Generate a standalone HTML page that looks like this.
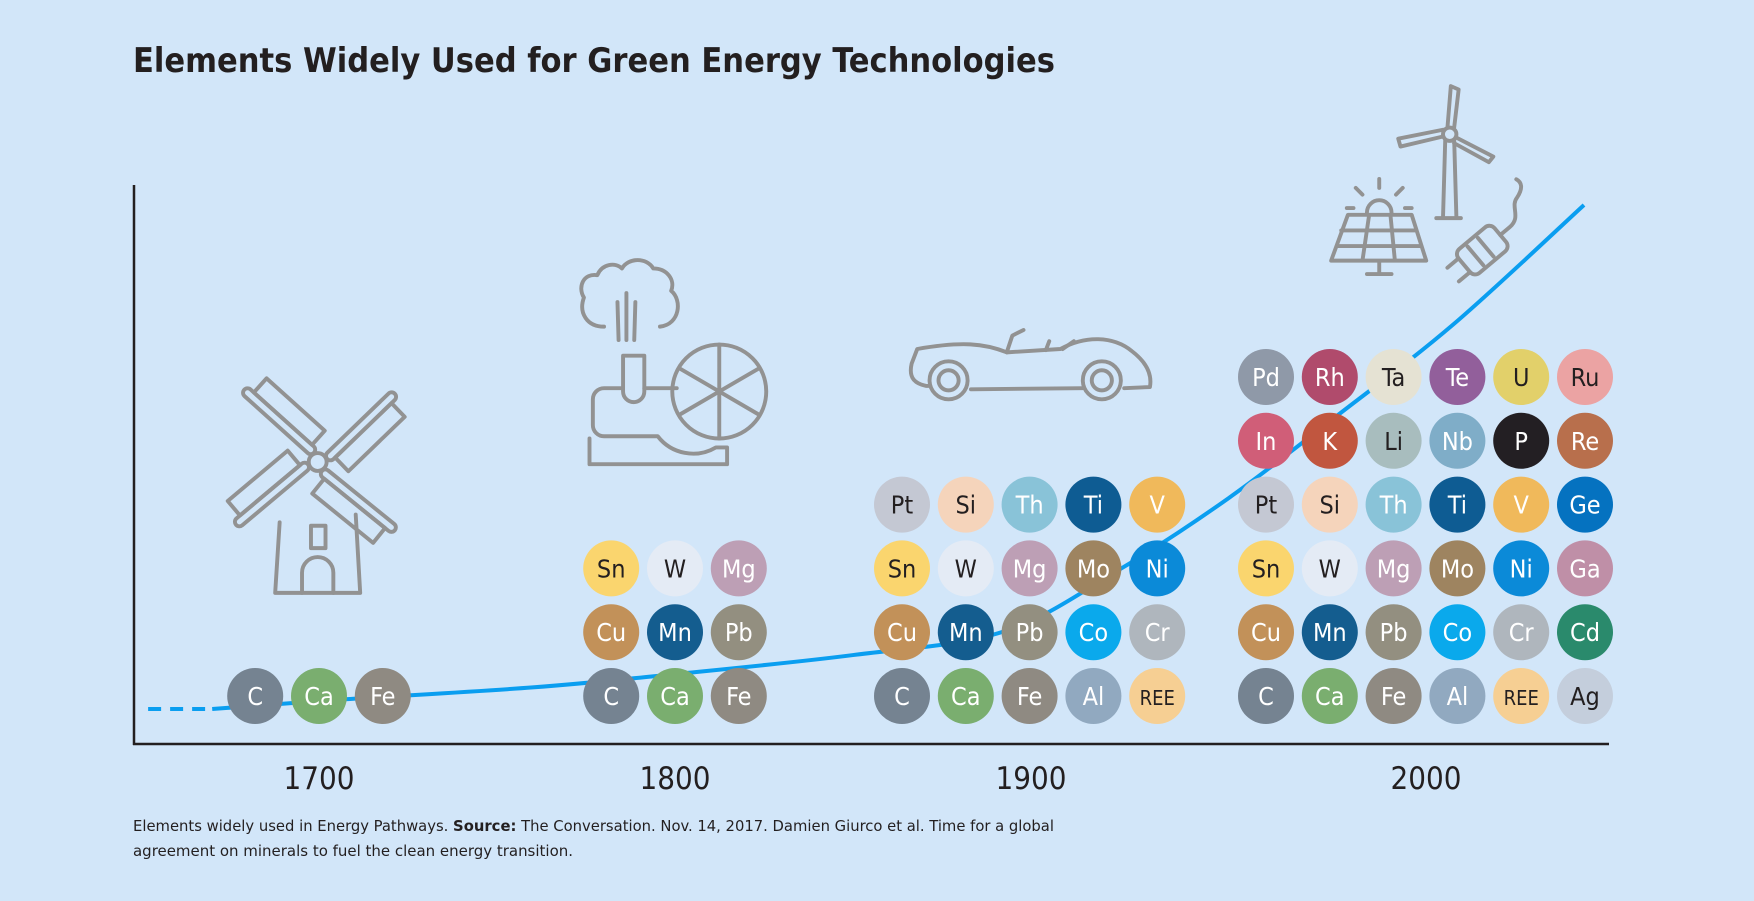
<!DOCTYPE html>
<html><head><meta charset="utf-8"><style>
html,body{margin:0;padding:0;background:#d2e6f9;}
svg{display:block;font-family:"DejaVu Sans Condensed","Liberation Sans",sans-serif;}
</style></head><body>
<svg id="chart" width="1754" height="901" viewBox="0 0 1754 901" xmlns="http://www.w3.org/2000/svg">
<rect width="1754" height="901" fill="#d2e6f9"/>
<text x="133" y="72" font-size="34" font-weight="bold" fill="#231f20" textLength="922" lengthAdjust="spacingAndGlyphs">Elements Widely Used for Green Energy Technologies</text>
<g id="icons" transform="scale(1.1186)" fill="none" stroke="#929292" stroke-width="3.5" stroke-linecap="round" stroke-linejoin="round">
  <g>
    <path d="M246,530 L250,467 M322,530 L318,460 M246,530 L322,530"/>
    <rect x="278" y="470" width="13" height="20"/>
    <path d="M270,530 V512 A14,14 0 0 1 298,512 V530"/>
    <circle cx="284" cy="413" r="8"/>
    <g transform="rotate(42 284 413)"><rect x="192" y="405" width="84" height="8" rx="4"/><rect x="200" y="388" width="70" height="17"/></g>
    <g transform="rotate(136 284 413)"><rect x="192" y="405" width="84" height="8" rx="4"/><rect x="200" y="388" width="70" height="17"/></g>
    <g transform="rotate(219 284 413)"><rect x="192" y="405" width="84" height="8" rx="4"/><rect x="200" y="388" width="70" height="17"/></g>
    <g transform="rotate(320 284 413)"><rect x="192" y="405" width="84" height="8" rx="4"/><rect x="200" y="388" width="70" height="17"/></g>
  </g>
  <g>
    <path d="M540,292 C525,292 517,280 522,266 C516,256 522,244 534,246 C538,236 550,234 556,240 C562,230 578,230 584,240 C596,240 604,250 600,260 C610,268 608,290 590,292"/>
    <path d="M552,270 L553,304 M560,262 V304 M568,270 L567,304"/>
    <path d="M557,318 H576 V350 A9,9 0 0 1 557,350 Z"/>
    <path d="M557,347 H540 A10,10 0 0 0 530,357 V380 A10,10 0 0 0 540,390 H588 A40,40 0 0 0 640,400 H650 V415 H527 V392"/>
    <path d="M576,347 H605"/>
    <circle cx="643" cy="350" r="42"/>
    <path d="M643,308 V392 M607,329 L679,371 M607,371 L679,329"/>
  </g>
  <g>
    <path d="M828,345 C818,343 812,338 815,325 L820,312 C860,305 880,307 900,315 L948,312 C970,300 995,300 1012,314 C1025,324 1030,335 1028,346 L1005,347 M968,347 L868,348 M828,345 L830,345"/>
    <circle cx="848" cy="340" r="17"/><circle cx="848" cy="340" r="9"/>
    <circle cx="985" cy="340" r="17"/><circle cx="985" cy="340" r="9"/>
    <path d="M900,315 L905,300 L915,295 M935,313 L938,305 M950,312 L960,305"/>
  </g>
  <g>
    <path d="M1290,195 L1292,125 M1300,125 L1302,195 M1284,195 H1306"/>
    <circle cx="1296" cy="120" r="6"/>
    <path d="M1294,114 L1297,77 L1304,80 L1300,114"/>
    <path d="M1290,122 L1252,131 L1250,124 L1290,116"/>
    <path d="M1302,123 L1335,140 L1331,145 L1300,128"/>
  </g>
  <g>
    <path d="M1205,192 H1262 L1275,233 H1190 Z M1199,206 H1266 M1195,220 H1270 M1224,192 L1218,233 M1243,192 L1247,233 M1233,233 V245 M1222,245 H1244"/>
    <path d="M1222,190 A11,11 0 0 1 1244,190"/>
    <path d="M1233,168 V160 M1218,174 L1212,168 M1248,174 L1254,168 M1210,186 H1204 M1256,186 H1262"/>
  </g>
  <g transform="rotate(-40 1325 225)">
    <rect x="1305" y="210" width="42" height="28" rx="6"/>
    <path d="M1305,216 H1292 M1305,232 H1292 M1347,224 H1358 C1372,224 1370,210 1380,208 C1390,205 1392,200 1390,195"/>
    <path d="M1318,213 V235 M1330,213 V235"/>
  </g>
</g>
<g id="axes"></g>
<g id="curve"></g>
<g id="circles"></g>
<g id="ticks"></g>
<text x="133" y="831" font-size="15" fill="#231f20" textLength="921" lengthAdjust="spacingAndGlyphs">Elements widely used in Energy Pathways. <tspan font-weight="bold">Source:</tspan> The Conversation. Nov. 14, 2017. Damien Giurco et al. Time for a global</text>
<text x="133" y="856" font-size="15" fill="#231f20" textLength="440" lengthAdjust="spacingAndGlyphs">agreement on minerals to fuel the clean energy transition.</text>
</svg>
<script>
const NS="http://www.w3.org/2000/svg";
const tickYears=[1700,1800,1900,2000];
const tickLabels=["1700","1800","1900","2000"];
const tickPx=[319,675,1031,1426];
const curveYears=[1652,1670,1705,1760,1799,1850,1892,1922,1950,1978,2007,2040];
const curveValues=[6.5,6.5,8.2,10.5,12.9,16.5,20.8,32.2,45.6,61.2,77.9,100];
const dashEndYear=1670;
const groupYears=[1700,1800,1900,2000];
const groupRows=[
 [["C","Ca","Fe"]],
 [["C","Ca","Fe"],["Cu","Mn","Pb"],["Sn","W","Mg"]],
 [["C","Ca","Fe","Al","REE"],["Cu","Mn","Pb","Co","Cr"],["Sn","W","Mg","Mo","Ni"],["Pt","Si","Th","Ti","V"]],
 [["C","Ca","Fe","Al","REE","Ag"],["Cu","Mn","Pb","Co","Cr","Cd"],["Sn","W","Mg","Mo","Ni","Ga"],["Pt","Si","Th","Ti","V","Ge"],["In","K","Li","Nb","P","Re"],["Pd","Rh","Ta","Te","U","Ru"]]
];
const elColors={C:"#758391",Ca:"#7aae6f",Fe:"#8f8a82",Al:"#91a9c0",REE:"#f6cf93",Ag:"#c4cedc",Cu:"#c29159",Mn:"#145d8f",Pb:"#938f80",Co:"#0aa9ec",Cr:"#afb6bd",Cd:"#2a8a6c",Sn:"#fad56e",W:"#e4ebf5",Mg:"#bd9fb5",Mo:"#9e8460",Ni:"#0b8ad8",Ga:"#bf8fa7",Pt:"#c4c8d3",Si:"#f5d4bb",Th:"#89c3d8",Ti:"#0e5c93",V:"#f0b95b",Ge:"#0572c0",In:"#d05e78",K:"#c1563f",Li:"#a8bdbe",Nb:"#7fadc8",P:"#231f23",Re:"#b86f4c",Pd:"#8f99a8",Rh:"#b04b6c",Ta:"#e5e2d3",Te:"#925f9b",U:"#e2d06a",Ru:"#eba3a3"};
const darkText=["Pt","Si","W","Sn","Ta","U","Ru","Li","REE","Ag"];

function xScale(y){
  let i=0; if(y>=tickYears[2])i=2; else if(y>=tickYears[1])i=1;
  return tickPx[i]+(y-tickYears[i])*(tickPx[i+1]-tickPx[i])/(tickYears[i+1]-tickYears[i]);
}
function yScale(v){return 744-v*(744-205)/100;}
function mk(tag,attrs,parent){const e=document.createElementNS(NS,tag);for(const k in attrs)e.setAttribute(k,attrs[k]);parent.appendChild(e);return e;}

const axes=document.getElementById('axes');
let a1=mk('line',{x1:134,y1:185,x2:134,y2:745,stroke:"#231f20","stroke-width":2.5},axes);


let a2=mk('line',{x1:133,y1:744,x2:1609,y2:744,stroke:"#231f20","stroke-width":2.5},axes);



const ticks=document.getElementById('ticks');
tickYears.forEach((y,i)=>{
  const t=mk('text',{x:xScale(y),y:789,"font-size":31,"text-anchor":"middle",fill:"#231f20"},ticks);
  t.textContent=tickLabels[i];
  
  
});

const pts=curveYears.map((y,i)=>[xScale(y),yScale(curveValues[i])]);
const cg=document.getElementById('curve');
let dashPts=pts.filter((p,i)=>curveYears[i]<=dashEndYear);
let dl=mk('line',{x1:dashPts[0][0],y1:dashPts[0][1],x2:dashPts[dashPts.length-1][0],y2:dashPts[dashPts.length-1][1],stroke:"#0a9ef0","stroke-width":4,"stroke-dasharray":"13 9"},cg);


const sp=pts.filter((p,i)=>curveYears[i]>=dashEndYear);
let d="M"+sp[0][0]+","+sp[0][1];
for(let i=0;i<sp.length-1;i++){
  const p0=sp[Math.max(0,i-1)],p1=sp[i],p2=sp[i+1],p3=sp[Math.min(sp.length-1,i+2)];
  const c1=[p1[0]+(p2[0]-p0[0])/6,p1[1]+(p2[1]-p0[1])/6];
  const c2=[p2[0]-(p3[0]-p1[0])/6,p2[1]-(p3[1]-p1[1])/6];
  d+=" C"+c1+" "+c2+" "+p2;
}
let sl=mk('path',{d:d,fill:"none",stroke:"#0a9ef0","stroke-width":4},cg);



const cgr=document.getElementById('circles');
const step=63.8, rowY0=696;
groupYears.forEach((gy,gi)=>{
  const rows=groupRows[gi];
  const n=rows[0].length;
  let x0;
  if(gi<2) x0=xScale(gy)-step*(n-1)/2;
  else if(gi===2) x0=902; else x0=1266;
  rows.forEach((row,ri)=>{
    row.forEach((el,ci)=>{
      const cx=x0+ci*step, cy=rowY0-ri*step;
      const g=mk('g',{},cgr);
      
      
      mk('circle',{cx:cx,cy:cy,r:28,fill:elColors[el]},g);
      const t=mk('text',{x:cx,y:cy+9,"text-anchor":"middle","font-size":el==="REE"?20:25,fill:darkText.includes(el)?"#231f20":"#ffffff"},g);
      t.textContent=el;
    });
  });
});
</script>
</body></html>
